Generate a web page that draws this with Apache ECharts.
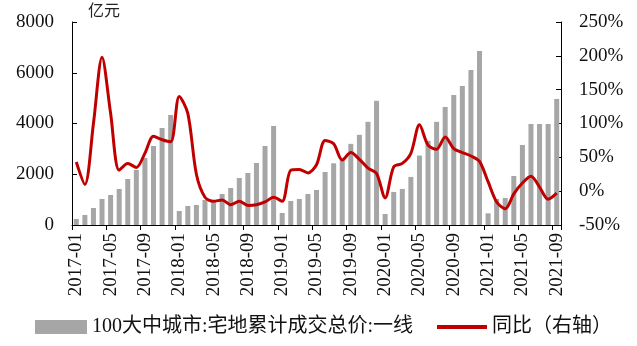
<!DOCTYPE html>
<html>
<head>
<meta charset="utf-8">
<script src="https://cdn.jsdelivr.net/npm/echarts@6/dist/echarts.min.js"></script>
<style>
  html, body { margin: 0; padding: 0; background: #fff; }
  #chart { width: 637px; height: 346px; }
</style>
</head>
<body>
<div id="chart"></div>
<script>
// Monthly categories, 2017-01 .. 2021-09
const months = [
  '2017-01','2017-02','2017-03','2017-04','2017-05','2017-06','2017-07','2017-08','2017-09','2017-10','2017-11','2017-12',
  '2018-01','2018-02','2018-03','2018-04','2018-05','2018-06','2018-07','2018-08','2018-09','2018-10','2018-11','2018-12',
  '2019-01','2019-02','2019-03','2019-04','2019-05','2019-06','2019-07','2019-08','2019-09','2019-10','2019-11','2019-12',
  '2020-01','2020-02','2020-03','2020-04','2020-05','2020-06','2020-07','2020-08','2020-09','2020-10','2020-11','2020-12',
  '2021-01','2021-02','2021-03','2021-04','2021-05','2021-06','2021-07','2021-08','2021-09'
];

// Cumulative residential land transaction value, tier-1 cities (亿元)
const landValue = [
  237, 394, 670, 1025, 1183, 1419, 1813, 2168, 2641, 3114, 3824, 4336,
  552, 749, 788, 985, 960, 1222, 1459, 1853, 2050, 2444, 3114, 3903,
  473, 946, 1025, 1222, 1380, 2089, 2431, 2550, 3198, 3553, 4066, 4895,
  434, 1303, 1421, 1895, 2737, 3316, 4066, 4652, 5125, 5479, 6110, 6859,
  460, 1025, 1064, 1932, 3154, 3981, 3981, 3981, 4967
];

// Year-on-year change (%), right axis
const yoy = [
  43, 10, 100, 198, 115, 31, 41, 35, 56, 81, 76, 73,
  140, 115, 25, -9, -15, -13, -20, -15, -21, -20, -16, -9,
  -15, 31, 32, 27, 39, 75, 70, 46, 57, 47, 34, 26,
  -10, 36, 41, 56, 98, 68, 62, 80, 63, 57, 52, 44,
  14, -16, -26, -4, 12, 22, 6, -12, -3
];

const leftTicks = { min: 0, max: 8000, interval: 2000 };
const rightTicks = { min: -50, max: 250, interval: 50 };

const barName = '100大中城市:宅地累计成交总价:一线';
const lineName = '同比（右轴）';

const serif = "'Liberation Serif', 'Times New Roman', 'Noto Sans CJK SC', serif";
const ink = '#111';

const chart = echarts.init(document.getElementById('chart'), null, { renderer: 'canvas' });

chart.setOption({
  animation: false,
  backgroundColor: '#fff',
  textStyle: { fontFamily: serif, color: ink },
  grid: { left: 72, right: 76, top: 22, bottom: 121, containLabel: false },
  legend: [
    {
      data: [barName],
      left: 30, top: 312,
      icon: 'rect', itemWidth: 52, itemHeight: 14, itemGap: 0,
      textStyle: { fontFamily: serif, fontSize: 20, color: ink }
    },
    {
      data: [lineName],
      left: 432, top: 312,
      icon: 'rect', itemWidth: 50, itemHeight: 4,
      textStyle: { fontFamily: serif, fontSize: 20, color: ink }
    }
  ],
  xAxis: {
    type: 'category',
    data: months,
    boundaryGap: true,
    axisLine: { lineStyle: { color: '#000', width: 1 } },
    axisTick: { show: true, interval: 3, length: 5, alignWithLabel: false, lineStyle: { color: '#000' } },
    axisLabel: { interval: 3, rotate: 90, margin: 8, fontSize: 19, fontFamily: serif, color: ink }
  },
  yAxis: [
    {
      type: 'value',
      min: leftTicks.min, max: leftTicks.max, interval: leftTicks.interval,
      name: '亿元',
      nameLocation: 'end',
      nameGap: 4,
      nameTextStyle: { fontFamily: "'Noto Sans CJK SC', sans-serif", fontSize: 16, color: '#222', align: 'left', padding: [0, 0, 0, 16] },
      axisLine: { show: true, lineStyle: { color: '#000', width: 1 } },
      axisTick: { show: true, inside: true, length: 5, lineStyle: { color: '#000' } },
      axisLabel: { margin: 18, fontSize: 19, fontFamily: serif, color: ink, formatter: (v) => String(v) },
      splitLine: { show: false }
    },
    {
      type: 'value',
      position: 'right',
      min: rightTicks.min, max: rightTicks.max, interval: rightTicks.interval,
      axisLine: { show: true, lineStyle: { color: '#000', width: 1 } },
      axisTick: { show: true, inside: true, length: 5, lineStyle: { color: '#000' } },
      axisLabel: { margin: 18, fontSize: 19, fontFamily: serif, color: ink, formatter: '{value}%' },
      splitLine: { show: false }
    }
  ],
  series: [
    {
      name: barName,
      type: 'bar',
      yAxisIndex: 0,
      data: landValue,
      barWidth: 5,
      itemStyle: { color: '#a6a6a6' }
    },
    {
      name: lineName,
      type: 'line',
      yAxisIndex: 1,
      data: yoy,
      smooth: 0.3,
      symbol: 'none',
      lineStyle: { color: '#c00000', width: 3 },
      itemStyle: { color: '#c00000' }
    }
  ]
});
</script>
</body>
</html>
